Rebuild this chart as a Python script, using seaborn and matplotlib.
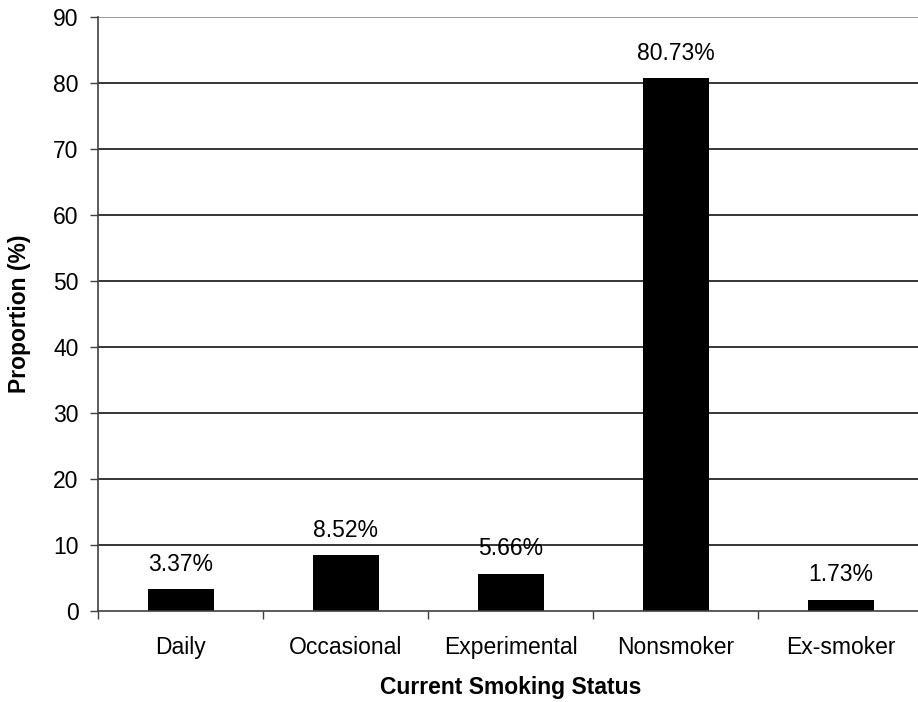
import matplotlib
matplotlib.use("Agg")
import matplotlib.pyplot as plt
import seaborn as sns
import pandas as pd
import numpy as np

categories = ["Daily", "Occasional", "Experimental", "Nonsmoker", "Ex-smoker"]
proportions = [3.37, 8.52, 5.66, 80.73, 1.73]
y_ticks = [0, 10, 20, 30, 40, 50, 60, 70, 80, 90]

df = pd.DataFrame({"status": categories, "proportion": proportions})

sns.set_theme(style="white")
plt.rcParams["font.family"] = ["Liberation Sans", "DejaVu Sans"]
plt.rcParams["text.color"] = "black"
plt.rcParams["axes.labelcolor"] = "black"
plt.rcParams["xtick.labelcolor"] = "black"
plt.rcParams["ytick.labelcolor"] = "black"

FS = 16.5
W, H = 918, 702
fig = plt.figure(figsize=(W / 100, H / 100), dpi=100)
left, right, top, bottom = 98, 923, 17, 611
ax = fig.add_axes([left / W, 1 - bottom / H, (right - left) / W, (bottom - top) / H])

sns.barplot(data=df, x="status", y="proportion", color="black", width=0.4,
            saturation=1, edgecolor="black", linewidth=0, ax=ax, zorder=3)

ax.set_xlim(-0.5, len(categories) - 0.5)
ax.set_ylim(0, 90)
ax.set_yticks(y_ticks)
ax.set_yticklabels([str(t) for t in y_ticks], fontsize=FS)

# horizontal gridlines
for t in y_ticks[1:]:
    ax.axhline(t, color="#808080" if t == 90 else "black", lw=1.1, zorder=1)

# category ticks sit on the boundaries between bars
ax.set_xticks(np.arange(-0.5, len(categories) + 0.5, 1.0))
ax.set_xticklabels([])
ax.set_xticks(np.arange(len(categories)), minor=True)
ax.set_xticklabels(categories, minor=True, fontsize=FS)
ax.tick_params(axis="x", which="major", direction="out", length=6, width=1,
               color="#404040", bottom=True)
ax.tick_params(axis="x", which="minor", length=0, pad=18)
ax.tick_params(axis="y", direction="out", length=6, width=1, color="#404040",
               left=True, pad=8)

for s in ["top", "right"]:
    ax.spines[s].set_visible(False)
for s in ["left", "bottom"]:
    ax.spines[s].set_color("#404040")
    ax.spines[s].set_linewidth(1.2)
    ax.spines[s].set_zorder(4)

ax.set_xlabel("Current Smoking Status", fontsize=FS, fontweight="bold", labelpad=12)
ax.set_ylabel("Proportion (%)", fontsize=FS, fontweight="bold", labelpad=16)

for i, v in enumerate(proportions):
    ax.annotate(f"{v:.2f}%", (i, v), xytext=(0, 9.5), textcoords="offset points",
                ha="center", va="bottom", fontsize=FS)

fig.savefig("out.png", dpi=100)
